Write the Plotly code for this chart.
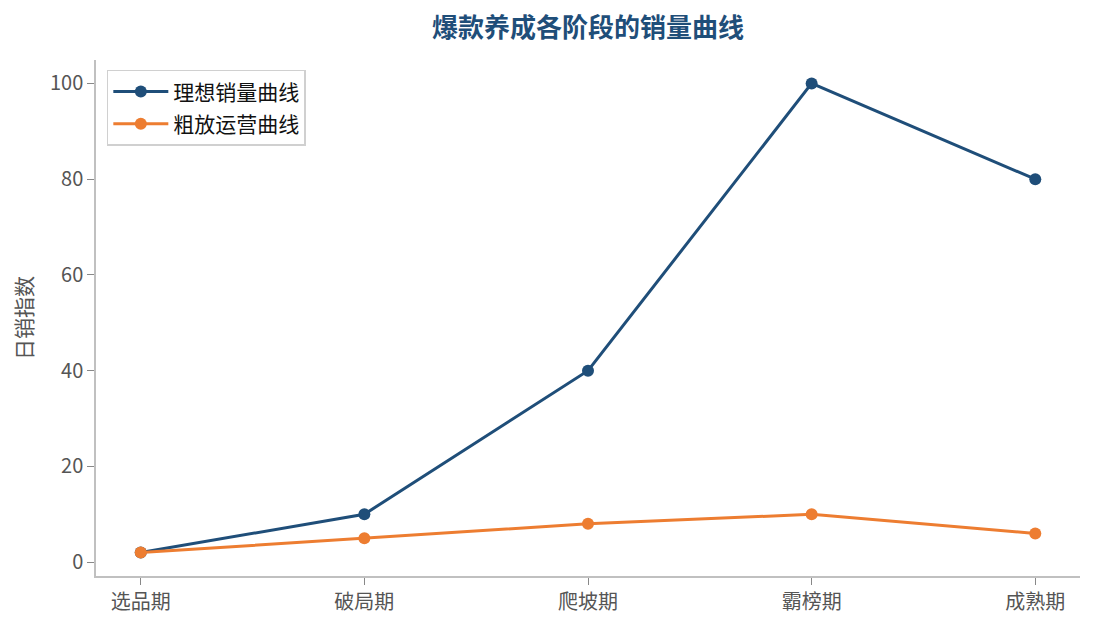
import plotly.graph_objects as go

stages = ["选品期", "破局期", "爬坡期", "霸榜期", "成熟期"]
ideal = [2, 10, 40, 100, 80]
rough = [2, 5, 8, 10, 6]
y_ticks = [0, 20, 40, 60, 80, 100]

font_cjk = "Noto Sans CJK SC"

fig = go.Figure()
fig.add_trace(go.Scatter(x=stages, y=ideal, mode="lines+markers", name="理想销量曲线",
                         legendgroup="a",
                         line=dict(color="#1f4e79", width=3), marker=dict(size=12)))
fig.add_trace(go.Scatter(x=stages, y=rough, mode="lines+markers", name="粗放运营曲线",
                         legendgroup="b",
                         line=dict(color="#ed7d31", width=3), marker=dict(size=12)))

# page body has an 8px margin, so the figure is a bit smaller than the window
fig.update_layout(
    width=1079, height=613,
    margin=dict(l=88, r=7, t=52, b=45),
    plot_bgcolor="white", paper_bgcolor="white",
    font=dict(family=font_cjk, size=20, color="#555555"),
    title=dict(text="<b>爆款养成各阶段的销量曲线</b>", x=0.5375, xanchor="center",
               y=0.967, yanchor="middle", font=dict(size=26, color="#1f4e79")),
    legend=dict(x=0.011, y=0.981, xanchor="left", yanchor="top",
                bgcolor="white", bordercolor="#d0d0d0", borderwidth=1.5,
                font=dict(size=21, color="#111111"), tracegroupgap=2, itemwidth=55),
    xaxis=dict(range=[-0.2, 4.2], showline=True, linecolor="#c0c0c0", linewidth=1.5,
               ticks="outside", ticklen=7, tickcolor="#888888", showgrid=False, zeroline=False),
    yaxis=dict(range=[-2.9, 104.9], tickvals=y_ticks, showline=True, linecolor="#c0c0c0",
               linewidth=1.5, ticks="outside", ticklen=7, tickcolor="#888888",
               showgrid=False, zeroline=False,
               title=dict(text="日销指数", standoff=12, font=dict(size=21))),
)

fig.write_html("out.html")
